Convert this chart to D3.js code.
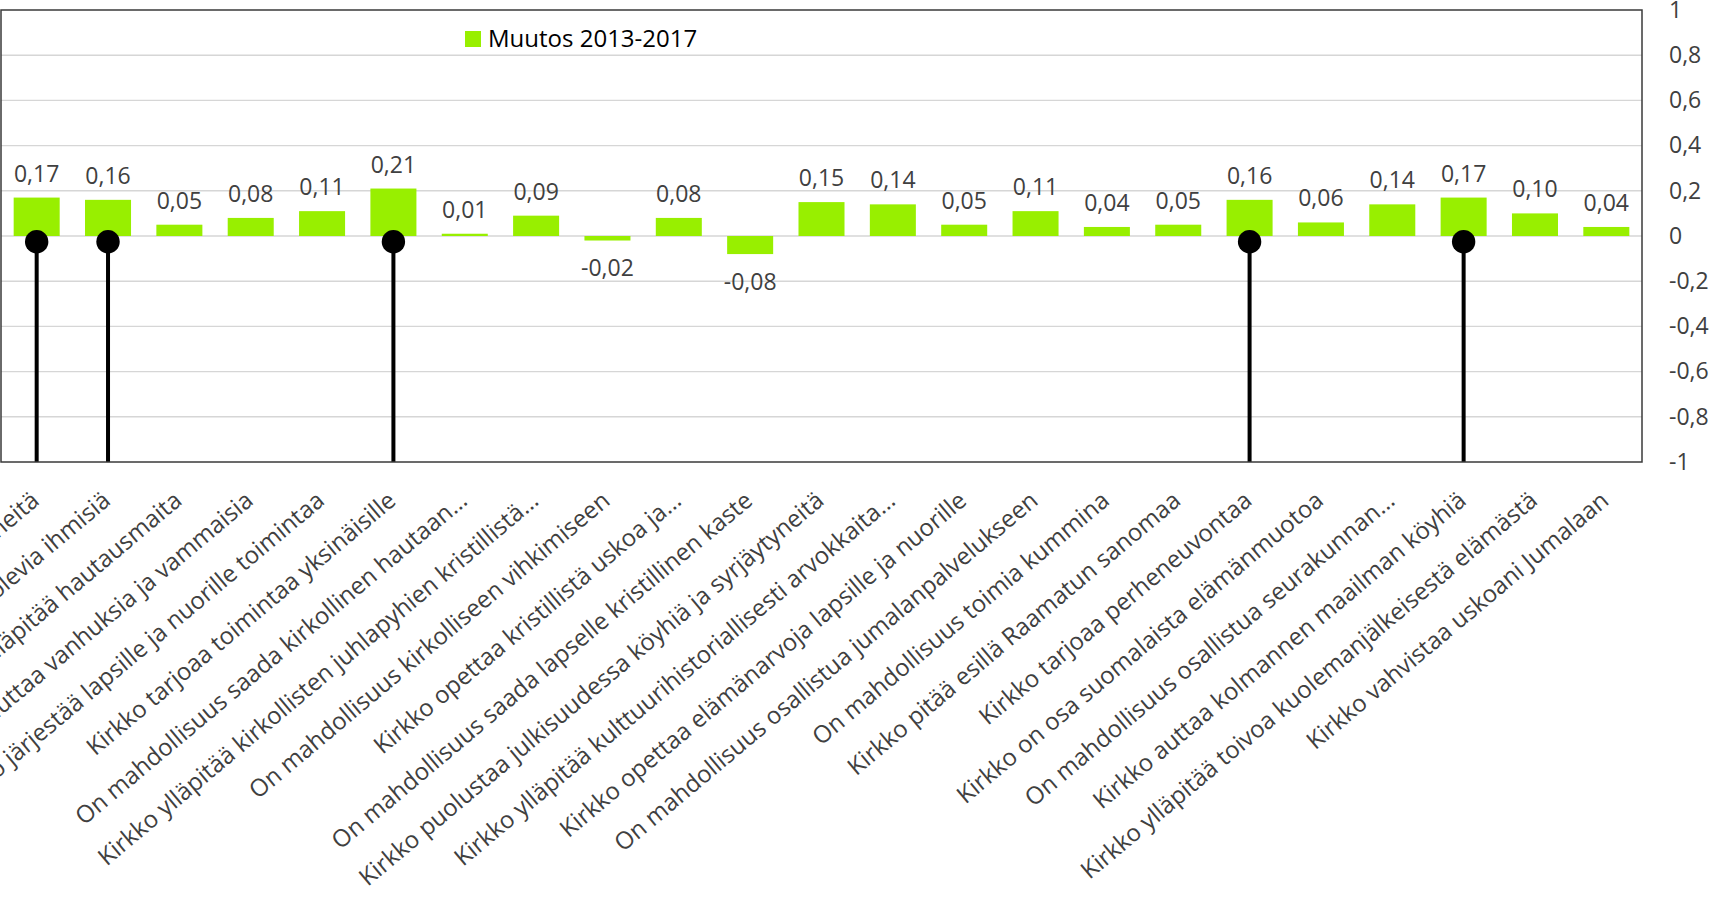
<!DOCTYPE html>
<html>
<head>
<meta charset="utf-8">
<script src="https://cdn.jsdelivr.net/npm/d3@7"></script>
<style>
  html, body { margin: 0; padding: 0; background: #fff; }
  svg { display: block; font-family: "Open Sans", sans-serif; }
</style>
</head>
<body>
<svg id="chart" width="1716" height="901"></svg>
<script>
// ---- data ----
const categories = [
  "Kirkko auttaa syrjäytyneitä",
  "Kirkko auttaa vaikeuksissa olevia ihmisiä",
  "Kirkko ylläpitää hautausmaita",
  "Kirkko auttaa vanhuksia ja vammaisia",
  "Kirkko järjestää lapsille ja nuorille toimintaa",
  "Kirkko tarjoaa toimintaa yksinäisille",
  "On mahdollisuus saada kirkollinen hautaan…",
  "Kirkko ylläpitää kirkollisten juhlapyhien kristillistä…",
  "On mahdollisuus kirkolliseen vihkimiseen",
  "Kirkko opettaa kristillistä uskoa ja…",
  "On mahdollisuus saada lapselle kristillinen kaste",
  "Kirkko puolustaa julkisuudessa köyhiä ja syrjäytyneitä",
  "Kirkko ylläpitää kulttuurihistoriallisesti arvokkaita…",
  "Kirkko opettaa elämänarvoja lapsille ja nuorille",
  "On mahdollisuus osallistua jumalanpalvelukseen",
  "On mahdollisuus toimia kummina",
  "Kirkko pitää esillä Raamatun sanomaa",
  "Kirkko tarjoaa perheneuvontaa",
  "Kirkko on osa suomalaista elämänmuotoa",
  "On mahdollisuus osallistua seurakunnan…",
  "Kirkko auttaa kolmannen maailman köyhiä",
  "Kirkko ylläpitää toivoa kuolemanjälkeisestä elämästä",
  "Kirkko vahvistaa uskoani Jumalaan"
];
const muutos = [0.17, 0.16, 0.05, 0.08, 0.11, 0.21, 0.01, 0.09, -0.02, 0.08, -0.08,
                0.15, 0.14, 0.05, 0.11, 0.04, 0.05, 0.16, 0.06, 0.14, 0.17, 0.10, 0.04];
const seriesName = "Muutos 2013-2017";
const yTicks = [1, 0.8, 0.6, 0.4, 0.2, 0, -0.2, -0.4, -0.6, -0.8, -1];
// highlighted categories (black pin markers)
const highlighted = [
  "Kirkko auttaa syrjäytyneitä",
  "Kirkko auttaa vaikeuksissa olevia ihmisiä",
  "Kirkko tarjoaa toimintaa yksinäisille",
  "Kirkko tarjoaa perheneuvontaa",
  "Kirkko auttaa kolmannen maailman köyhiä"
];
const pinHead = -0.025;   // value at which the pin head sits
const pinFoot = -1;       // value where the pin ends

// ---- layout ----
const svg = d3.select("#chart");
const plot = { left: 1, right: 1642, top: 10, bottom: 462 };
const GREEN = "#98ef00";
const TEXT = "#404040";

const loc = d3.formatLocale({ decimal: ",", thousands: " ", grouping: [3], currency: ["", "€"], minus: "-" });
const fmtTick = loc.format("~g");
const fmtVal = loc.format(".2f");

const x = d3.scaleBand().domain(categories).range([plot.left, plot.right])
  .paddingInner(0.355).paddingOuter(0.1775);
const y = d3.scaleLinear().domain([-1, 1]).range([plot.bottom, plot.top]);

// gridlines
svg.append("g").selectAll("line").data(yTicks.filter(t => Math.abs(t) < 1)).join("line")
  .attr("x1", plot.left).attr("x2", plot.right)
  .attr("y1", d => y(d)).attr("y2", d => y(d))
  .attr("stroke", "#d6d6d6").attr("stroke-width", 1.4);

// bars
svg.append("g").selectAll("rect").data(muutos).join("rect")
  .attr("x", (d, i) => x(categories[i]))
  .attr("width", x.bandwidth())
  .attr("y", d => y(Math.max(0, d)))
  .attr("height", d => Math.abs(y(d) - y(0)))
  .attr("fill", GREEN);

// data labels
svg.append("g").selectAll("text").data(muutos).join("text")
  .attr("x", (d, i) => x(categories[i]) + x.bandwidth() / 2)
  .attr("y", d => d >= 0 ? y(d) - 16 : y(d) + 35.5)
  .attr("text-anchor", "middle")
  .attr("font-size", 23)
  .attr("fill", TEXT)
  .text(d => fmtVal(d));

// pins
const pins = svg.append("g");
pins.selectAll("line").data(highlighted).join("line")
  .attr("x1", d => x(d) + x.bandwidth() / 2).attr("x2", d => x(d) + x.bandwidth() / 2)
  .attr("y1", y(pinHead)).attr("y2", y(pinFoot))
  .attr("stroke", "#000").attr("stroke-width", 4);
pins.selectAll("circle").data(highlighted).join("circle")
  .attr("cx", d => x(d) + x.bandwidth() / 2)
  .attr("cy", y(pinHead))
  .attr("r", 11.7)
  .attr("fill", "#000");

// plot border
svg.append("rect")
  .attr("x", plot.left).attr("y", plot.top)
  .attr("width", plot.right - plot.left).attr("height", plot.bottom - plot.top)
  .attr("fill", "none").attr("stroke", "#3a3a3a").attr("stroke-width", 1.5);

// right axis
const yAxis = svg.append("g")
  .attr("transform", `translate(${plot.right},0)`)
  .call(d3.axisRight(y).tickValues(yTicks).tickFormat(fmtTick).tickSize(0).tickPadding(27));
yAxis.select(".domain").remove();
yAxis.selectAll("text")
  .attr("font-size", 23).attr("fill", TEXT)
  .attr("font-family", "'Open Sans', sans-serif");

// category labels
svg.append("g").selectAll("text").data(categories).join("text")
  .attr("transform", d => `translate(${x(d) + x.bandwidth() / 2 + 4},${plot.bottom + 41}) rotate(-40)`)
  .attr("text-anchor", "end")
  .attr("font-size", 24)
  .attr("fill", TEXT)
  .text(d => d);

// legend
const lg = svg.append("g");
lg.append("rect").attr("x", 465).attr("y", 31).attr("width", 16).attr("height", 16).attr("fill", GREEN);
lg.append("text").attr("x", 488).attr("y", 47).attr("font-size", 24).attr("fill", "#000").text(seriesName);
</script>
</body>
</html>
